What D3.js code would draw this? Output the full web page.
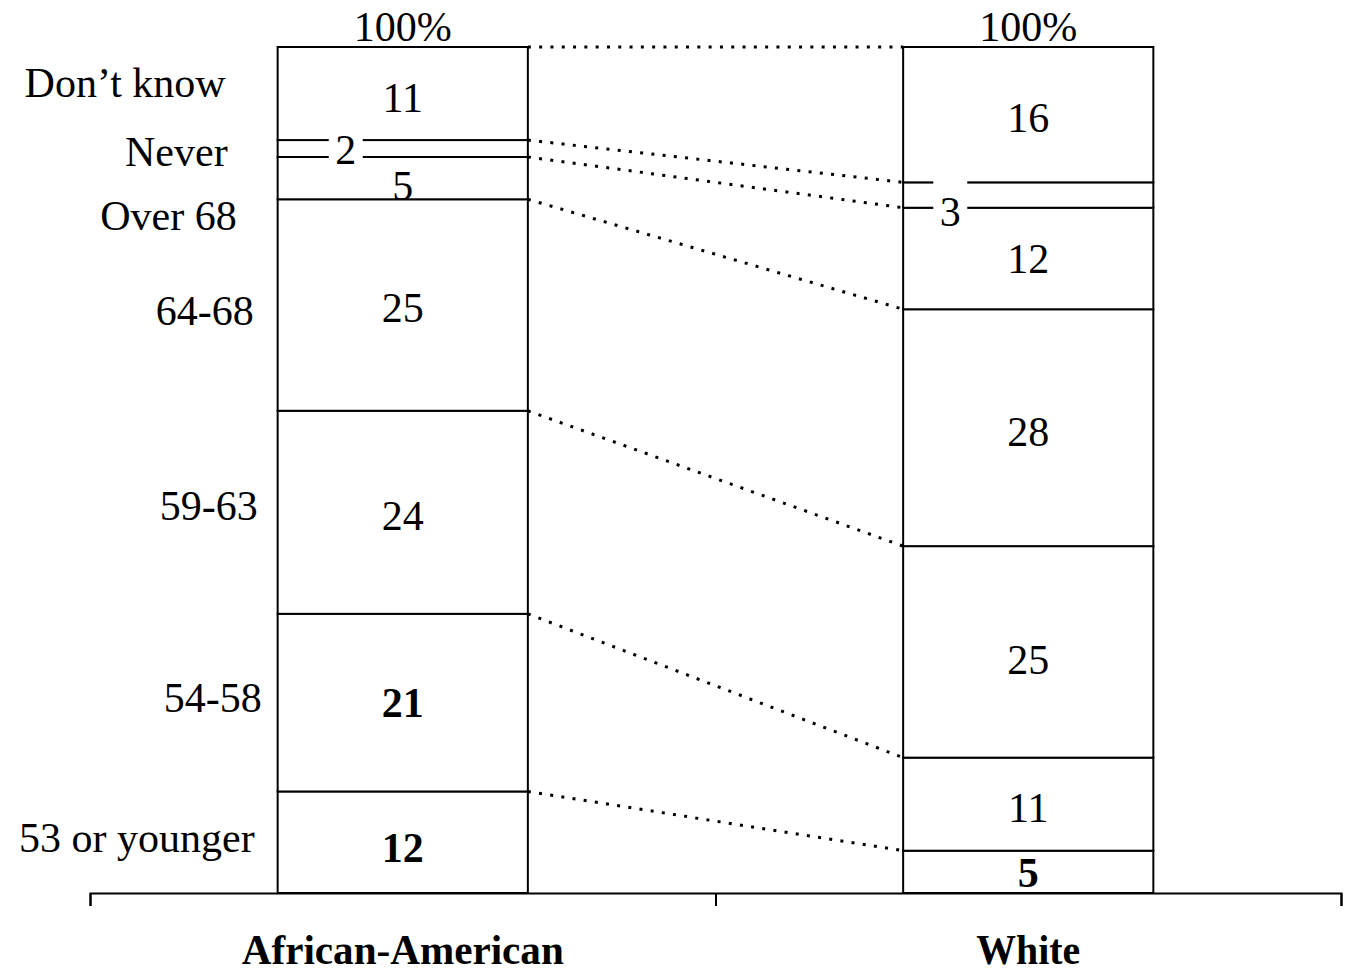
<!DOCTYPE html>
<html>
<head>
<meta charset="utf-8">
<script src="https://cdn.jsdelivr.net/npm/d3@7"></script>
<style>
  html, body { margin: 0; padding: 0; background: #fff; }
  svg { display: block; }
  text { font-family: "Liberation Serif", "Times New Roman", serif; fill: #000; }
</style>
</head>
<body>
<svg id="chart" width="1353" height="973"></svg>
<script>
// ---- data ----
const groups = ["African-American", "White"];
const segments = ["53 or younger", "54-58", "59-63", "64-68", "Over 68", "Never", "Don\u2019t know"];
const africanAmerican = [12, 21, 24, 25, 5, 2, 11];
const white = [5, 11, 25, 28, 12, 3, 16];
const totalLabel = "100%";
const boldSegments = { "African-American": [0, 1], "White": [0] };

// ---- layout (label nudges, px) ----
const leftLabelNudge = [[-23, 10], [-16, 9.5], [-20, 8], [-24, 20], [-41, 52], [-50, 17.5], [-52, 3.5]];
const valueNudge = {
  "African-American": [[0, 20], [0, 14], [0, 18], [0, 17], [0, 22], [-57, 15.5], [0, 18.5]],
  "White": [[0, 15], [0, 18], [0, 22], [0, 18], [0, 14.5], [-78, 31], [0, 17]]
};
const gapSegment = { "African-American": 5, "White": 5 };

const svg = d3.select("#chart");
const seriesByGroup = { "African-American": africanAmerican, "White": white };

const x = d3.scaleBand().domain(groups).range([90, 1341]).padding(0);
const y = d3.scaleLinear().domain([0, 100]).range([893, 47]);
const barW = x.bandwidth() * 0.4;
const barX = g => x(g) + (x.bandwidth() - barW) / 2;

// stacked data
const stacks = {};
groups.forEach(g => {
  let acc = 0;
  stacks[g] = seriesByGroup[g].map((v, i) => {
    const s = { group: g, i, value: v, y0: acc, y1: acc + v };
    acc += v;
    return s;
  });
});

// connectors (dotted)
const connectors = stacks[groups[0]].map((s, i) => ({ a: s.y1, b: stacks[groups[1]][i].y1 }));
svg.append("g").selectAll("line").data(connectors).join("line")
  .attr("x1", barX(groups[0]) + barW)
  .attr("x2", barX(groups[1]))
  .attr("y1", d => y(d.a))
  .attr("y2", d => y(d.b))
  .attr("stroke", "#000")
  .attr("stroke-width", 3)
  .attr("stroke-dasharray", "3 8.3");

// bars
groups.forEach(g => {
  const gg = svg.append("g");
  gg.selectAll("rect").data(stacks[g]).join("rect")
    .attr("x", barX(g))
    .attr("width", barW)
    .attr("y", d => y(d.y1))
    .attr("height", d => y(d.y0) - y(d.y1))
    .attr("fill", "#fff")
    .attr("stroke", "#000")
    .attr("stroke-width", 2);
});

// axis
const axisG = svg.append("g").attr("transform", `translate(0,${y(0)})`);
const tickScale = d3.scaleLinear().domain([0, groups.length]).range(x.range());
axisG.call(d3.axisBottom(tickScale).tickValues(d3.range(groups.length + 1)).tickSize(13).tickSizeOuter(13).tickFormat(""));
axisG.selectAll("path, line").attr("stroke", "#000").attr("stroke-width", 2);

// white gaps behind small labels + value labels
groups.forEach(g => {
  const si = gapSegment[g];
  const s = stacks[g][si];
  const cx = x(g) + x.bandwidth() / 2 + valueNudge[g][si][0];
  svg.append("rect")
    .attr("x", cx - 17).attr("width", 34)
    .attr("y", y(s.y1) - 3).attr("height", y(s.y0) - y(s.y1) + 6)
    .attr("fill", "#fff");

  svg.append("g").selectAll("text").data(stacks[g]).join("text")
    .attr("x", d => x(g) + x.bandwidth() / 2 + valueNudge[g][d.i][0])
    .attr("y", d => y((d.y0 + d.y1) / 2) + valueNudge[g][d.i][1])
    .attr("text-anchor", "middle")
    .attr("font-size", 42)
    .attr("font-weight", d => boldSegments[g].includes(d.i) ? "bold" : "normal")
    .text(d => d.value);

  svg.append("text")
    .attr("x", x(g) + x.bandwidth() / 2)
    .attr("y", y(100) - 6)
    .attr("text-anchor", "middle")
    .attr("font-size", 42)
    .text(totalLabel);
});

// left segment labels
svg.append("g").selectAll("text").data(stacks[groups[0]]).join("text")
  .attr("x", d => barX(groups[0]) + leftLabelNudge[d.i][0])
  .attr("y", d => y((d.y0 + d.y1) / 2) + leftLabelNudge[d.i][1])
  .attr("text-anchor", "end")
  .attr("font-size", 42)
  .text(d => segments[d.i]);

// category labels
const catWidths = { "African-American": 322, "White": 104 };
svg.append("g").selectAll("text").data(groups).join("text")
  .attr("x", g => x(g) + x.bandwidth() / 2 - catWidths[g] / 2)
  .attr("y", 964)
  .attr("font-size", 43)
  .attr("font-weight", "bold")
  .attr("textLength", g => catWidths[g])
  .attr("lengthAdjust", "spacingAndGlyphs")
  .text(g => g);
</script>
</body>
</html>
